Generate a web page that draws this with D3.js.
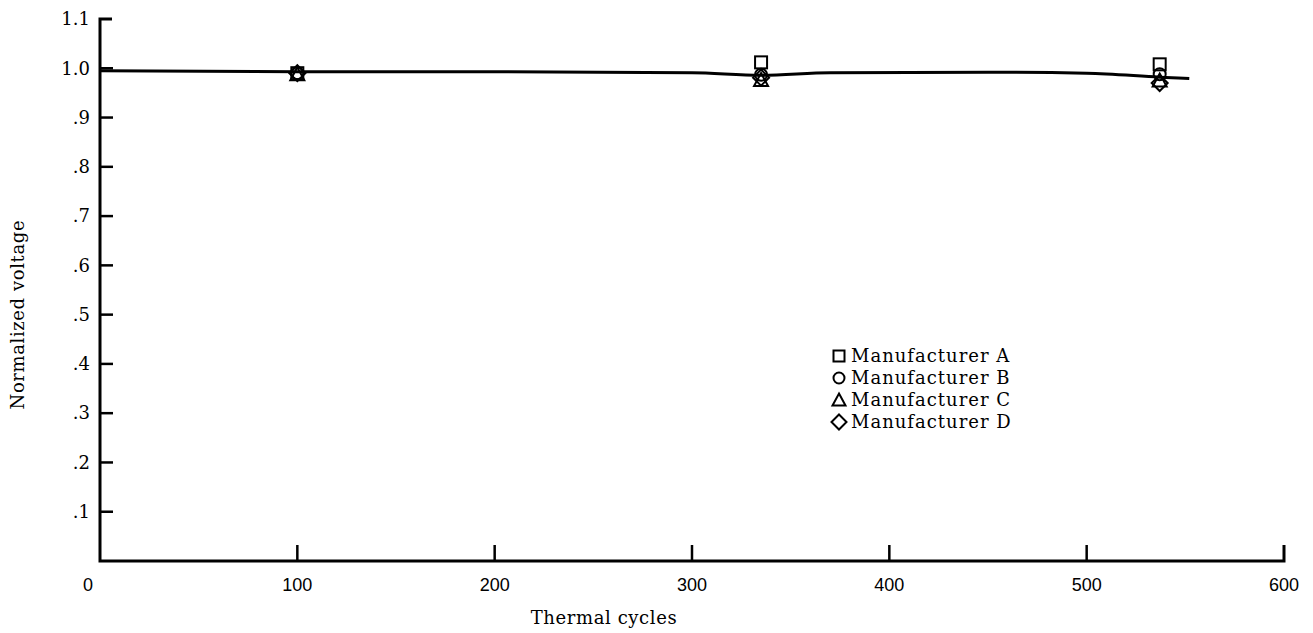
<!DOCTYPE html>
<html><head><meta charset="utf-8">
<script src="https://cdn.jsdelivr.net/npm/d3@7"></script>
<style>body{margin:0;background:#fff}svg{display:block}text{font-family:"DejaVu Serif",serif;fill:#000}</style>
</head><body><svg id="c" width="1313" height="633"></svg>
<script>
const xTicks = [0,100,200,300,400,500,600];
const yTicks = [0.1,0.2,0.3,0.4,0.5,0.6,0.7,0.8,0.9,1.0,1.1];
const yTickLabels = [".1",".2",".3",".4",".5",".6",".7",".8",".9","1.0","1.1"];
const cycles = [100,335,537];
const mfrA = [0.990,1.012,1.008];
const mfrB = [0.990,0.987,0.988];
const mfrC = [0.988,0.976,0.975];
const mfrD = [0.990,0.981,0.970];
const curveX = [0,100,200,300,335,370,450,500,537,552];
const curveY = [0.995,0.993,0.993,0.991,0.986,0.991,0.992,0.990,0.982,0.979];
const seriesNames = ["Manufacturer A","Manufacturer B","Manufacturer C","Manufacturer D"];
const shapes = ["square","circle","triangle","diamond"];

const svg = d3.select("#c");
const x = d3.scaleLinear().domain([0,600]).range([100,1284]);
const y = d3.scaleLinear().domain([0,1.1]).range([561,19]);

// axes
const ax = svg.append("g").attr("stroke","#000").attr("fill","none");
ax.append("path").attr("stroke-width",3)
  .attr("d",`M${x(0)+12},${y(1.1)}H${x(0)}V${y(0)}H${x(600)}V${y(0)-16}`);
yTicks.filter(v=>v<1.1).forEach(v=>{
  ax.append("line").attr("x1",x(0)).attr("x2",x(0)+13).attr("y1",y(v)).attr("y2",y(v)).attr("stroke-width",2.5);
});
xTicks.filter(v=>v>0&&v<600).forEach(v=>{
  ax.append("line").attr("x1",x(v)).attr("x2",x(v)).attr("y1",y(0)).attr("y2",y(0)-16).attr("stroke-width",2.5);
});
svg.selectAll(".yl").data(yTicks).enter().append("text")
  .attr("x",x(0)-10).attr("y",d=>y(d)).attr("dy","0.35em").attr("text-anchor","end")
  .style("font-size","18px").text((d,i)=>yTickLabels[i]);
svg.selectAll(".xl").data(xTicks).enter().append("text")
  .attr("x",d=>x(d)-(d===0?12:0)).attr("y",591).attr("text-anchor","middle")
  .style("font-family","'Liberation Sans',Arial,sans-serif").style("font-size","18px").text(d=>d);
svg.append("text").attr("x",604).attr("y",624).attr("text-anchor","middle")
  .style("font-size","18px").style("letter-spacing","0.6px").text("Thermal cycles");
svg.append("text").attr("transform",`translate(24,${y(0.5)}) rotate(-90)`).attr("text-anchor","middle")
  .style("font-size","18px").style("letter-spacing","0.6px").text("Normalized voltage");

// curve
const pts = curveX.map((v,i)=>[x(v),y(curveY[i])]);
svg.append("path").attr("d",d3.line().curve(d3.curveMonotoneX)(pts))
  .attr("fill","none").attr("stroke","#000").attr("stroke-width",3);

// markers
function marker(g,shape,cx,cy,s){
  const h=s/2;
  if(shape==="square") g.append("rect").attr("x",cx-h).attr("y",cy-h).attr("width",s).attr("height",s);
  else if(shape==="circle") g.append("circle").attr("cx",cx).attr("cy",cy).attr("r",h);
  else if(shape==="triangle") g.append("path").attr("d",`M${cx},${cy-h-1}L${cx+h+1},${cy+h}L${cx-h-1},${cy+h}Z`);
  else g.append("path").attr("d",`M${cx},${cy-h-2}L${cx+h+2},${cy}L${cx},${cy+h+2}L${cx-h-2},${cy}Z`);
}
const mg = svg.append("g").attr("fill","none").attr("stroke","#000").attr("stroke-width",2);
[mfrA,mfrB,mfrC,mfrD].forEach((vals,si)=>{
  vals.forEach((v,i)=>marker(mg,shapes[si],x(cycles[i]),y(v),12));
});

// legend
const lg = svg.append("g");
seriesNames.forEach((n,i)=>{
  const cy = 356 + i*22;
  marker(lg.append("g").attr("fill","none").attr("stroke","#000").attr("stroke-width",2),shapes[i],839,cy,11);
  lg.append("text").attr("x",851).attr("y",cy).attr("dy","0.35em").style("font-size","18px")
    .style("letter-spacing","1px").text(n);
});
</script></body></html>
